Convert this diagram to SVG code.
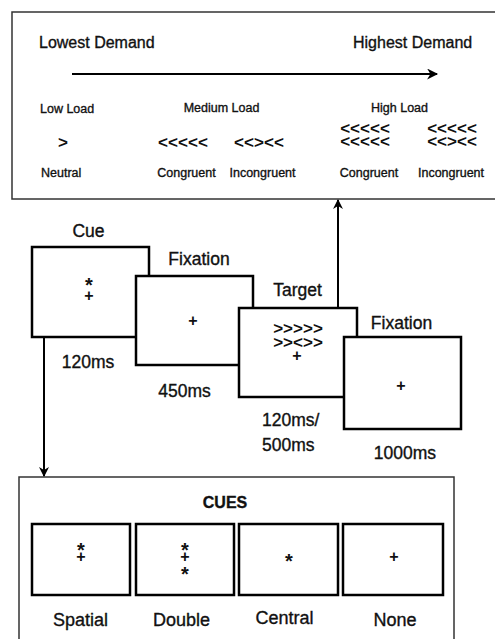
<svg xmlns="http://www.w3.org/2000/svg" width="495" height="639" viewBox="0 0 495 639">
<defs>
<style>
text{font-family:"Liberation Sans",Arial,sans-serif;fill:#111;stroke:#111;stroke-width:0.35}
.big{font-size:16px}
.sm{font-size:12.5px}
.tl{font-size:17.5px}
.cl{font-size:18px}
.sym{font-size:16px;font-weight:bold;text-anchor:middle;stroke-width:0}
.ast{font-size:20px;font-weight:bold}
.chev{font-size:17px;font-weight:bold;stroke-width:0}
.mid{text-anchor:middle}
.panel{fill:#fff;stroke:#333;stroke-width:1.5}
.frame{fill:#fff;stroke:#000;stroke-width:2.5}
.conn{stroke:#000;stroke-width:2;fill:none}
</style>
<marker id="ah" viewBox="0 0 10 10" refX="9" refY="5" markerWidth="10" markerHeight="10" markerUnits="userSpaceOnUse" orient="auto">
<path d="M0,0 L10,5 L0,10 L3,5 Z" fill="#000"/>
</marker>
<marker id="ah2" viewBox="0 0 10 10" refX="9" refY="5" markerWidth="12" markerHeight="11" markerUnits="userSpaceOnUse" orient="auto">
<path d="M0,0 L10,5 L0,10 L3,5 Z" fill="#000"/>
</marker>
</defs>

<g id="demand-panel">
<rect class="panel" x="12" y="12" width="495" height="187"/>
<text class="big" x="39" y="48">Lowest Demand</text>
<text class="big" x="353" y="48">Highest Demand</text>
<line class="conn" x1="72" y1="74" x2="437" y2="74" marker-end="url(#ah2)"/>
<text class="sm" x="40" y="113">Low Load</text>
<text class="sm mid" x="221.5" y="112">Medium Load</text>
<text class="sm mid" x="399.5" y="112">High Load</text>
<text class="chev mid" x="63" y="148">&gt;</text>
<text class="chev mid" x="183" y="148" textLength="50">&lt;&lt;&lt;&lt;&lt;</text>
<text class="chev mid" x="259" y="148" textLength="50">&lt;&lt;&gt;&lt;&lt;</text>
<text class="chev mid" x="365"><tspan x="365" y="134">&lt;&lt;&lt;&lt;&lt;</tspan><tspan x="365" y="147">&lt;&lt;&lt;&lt;&lt;</tspan></text>
<text class="chev mid" x="452"><tspan x="452" y="134">&lt;&lt;&lt;&lt;&lt;</tspan><tspan x="452" y="147">&lt;&lt;&gt;&lt;&lt;</tspan></text>
<text class="sm" x="41" y="177">Neutral</text>
<text class="sm mid" x="186.5" y="177">Congruent</text>
<text class="sm mid" x="262.5" y="177">Incongruent</text>
<text class="sm mid" x="369" y="177">Congruent</text>
<text class="sm mid" x="451" y="177">Incongruent</text>
</g>

<g id="cue">
<text class="tl mid" x="88.5" y="237">Cue</text>
<rect class="frame" x="32" y="247" width="117" height="90"/>
<text class="sym"><tspan class="ast" x="89" y="292">*</tspan><tspan x="89" y="301">+</tspan></text>
<text class="tl mid" x="88" y="368">120ms</text>
</g>

<g id="fixation1">
<text class="tl mid" x="199" y="265">Fixation</text>
<rect class="frame" x="136" y="276" width="117" height="89"/>
<text class="sym" x="193" y="326">+</text>
<text class="tl mid" x="184.5" y="397">450ms</text>
</g>

<g id="target">
<text class="tl mid" x="297.5" y="296">Target</text>
<rect class="frame" x="239" y="308" width="118" height="89"/>
<text class="chev mid"><tspan x="298" y="334">&gt;&gt;&gt;&gt;&gt;</tspan><tspan x="298" y="348">&gt;&gt;&lt;&gt;&gt;</tspan></text>
<text class="sym" x="297" y="361">+</text>
<text class="tl" x="262" y="426">120ms/</text>
<text class="tl" x="262" y="451">500ms</text>
</g>

<g id="fixation2">
<text class="tl mid" x="401.5" y="329">Fixation</text>
<rect class="frame" x="344" y="337" width="117" height="92"/>
<text class="sym" x="401" y="391">+</text>
<text class="tl mid" x="405" y="459">1000ms</text>
</g>

<g id="cues-panel">
<rect class="panel" x="19" y="477" width="435" height="200"/>
<text x="225" y="508" style="font-size:16px;font-weight:bold;text-anchor:middle">CUES</text>
<rect class="frame" x="32" y="524" width="98" height="71"/>
<rect class="frame" x="136" y="524" width="98" height="71"/>
<rect class="frame" x="239" y="524" width="99" height="71"/>
<rect class="frame" x="343" y="524" width="100" height="71"/>
<text class="sym"><tspan class="ast" x="81" y="557">*</tspan><tspan x="81" y="562">+</tspan></text>
<text class="sym"><tspan class="ast" x="185" y="557">*</tspan><tspan x="185" y="562">+</tspan><tspan class="ast" x="185" y="581">*</tspan></text>
<text class="sym"><tspan class="ast" x="289" y="568">*</tspan></text>
<text class="sym" x="394" y="562">+</text>
<text class="cl mid" x="80.5" y="626">Spatial</text>
<text class="cl mid" x="181.5" y="626">Double</text>
<text class="cl mid" x="284.5" y="624">Central</text>
<text class="cl mid" x="395" y="626">None</text>
</g>

<g id="connectors">
<line class="conn" x1="338" y1="308" x2="338" y2="200" marker-end="url(#ah)"/>
<line class="conn" x1="44" y1="337" x2="44" y2="476" marker-end="url(#ah)"/>
</g>
</svg>
